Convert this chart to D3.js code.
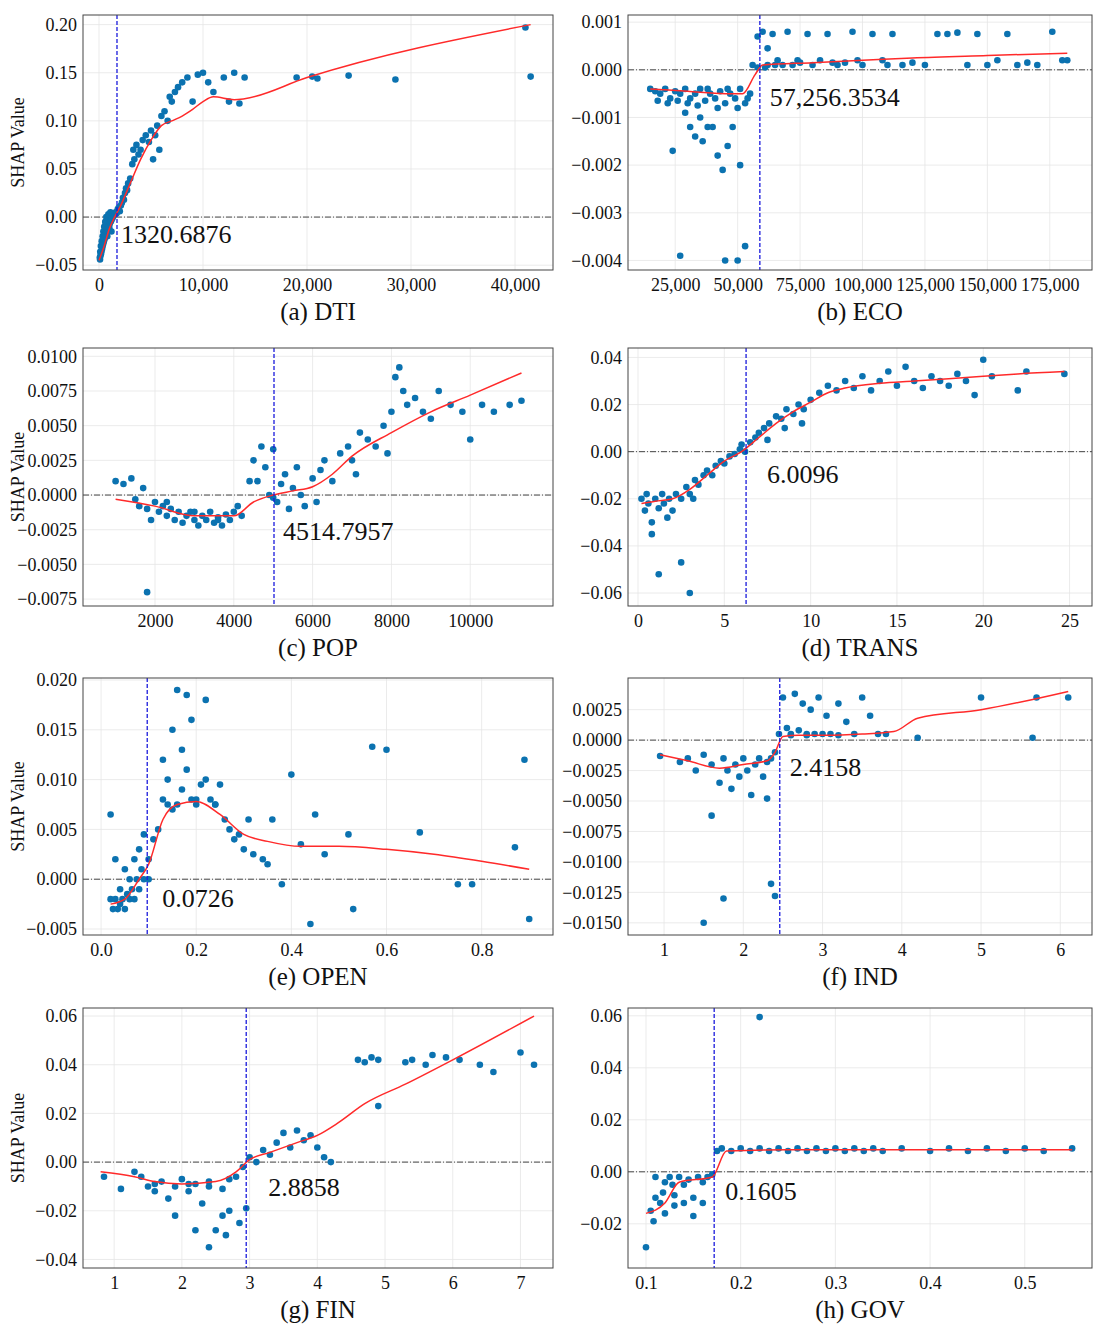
<!DOCTYPE html>
<html>
<head>
<meta charset="utf-8">
<script src="https://cdn.jsdelivr.net/npm/d3@7"></script>
<style>
  body { margin: 0; background: #fff; }
  text { font-family: "Liberation Serif", "Times New Roman", serif; }
</style>
</head>
<body>
<svg id="chart" width="1103" height="1324"></svg>
<script>
// ---- data ----
const dtiPoints = [[80,-0.042],[100,-0.044],[120,-0.036],[150,-0.040],[180,-0.03],[200,-0.038],[250,-0.035],[260,-0.025],[300,-0.033],[350,-0.03],[350,-0.02],[400,-0.028],[420,-0.015],[450,-0.026],[500,-0.024],[500,-0.01],[550,-0.022],[600,-0.02],[600,-0.005],[650,-0.018],[700,-0.016],[700,0],[750,-0.015],[800,-0.013],[800,-0.02],[850,-0.012],[900,-0.01],[900,0.003],[950,-0.009],[1000,-0.008],[1000,-0.012],[1050,-0.006],[1100,-0.005],[1100,0.005],[1150,-0.004],[1200,-0.003],[1200,-0.015],[1300,-0.001],[1400,0.001],[1500,0.003],[1600,0.005],[1700,0.004],[1800,0.008],[1900,0.01],[2000,0.006],[2100,0.012],[2200,0.015],[2300,0.02],[2400,0.018],[2500,0.025],[2600,0.03],[2700,0.028],[2800,0.035],[3000,0.04],[3200,0.055],[3300,0.07],[3400,0.06],[3600,0.075],[3800,0.065],[4000,0.07],[4200,0.08],[4500,0.085],[4800,0.078],[5000,0.09],[5200,0.06],[5400,0.085],[5600,0.095],[5800,0.07],[6000,0.105],[6300,0.11],[6600,0.1],[6800,0.125],[7000,0.12],[7300,0.13],[7600,0.135],[8000,0.14],[8500,0.145],[9000,0.12],[9500,0.148],[10000,0.15],[10500,0.14],[11000,0.13],[12000,0.145],[12500,0.12],[13000,0.15],[13500,0.118],[14000,0.145],[19000,0.145],[20500,0.146],[21000,0.144],[24000,0.147],[28500,0.143],[41000,0.197],[41500,0.146]];
const dtiLine = [[0,-0.045],[500,-0.03],[1000,-0.012],[1500,0.0],[2000,0.01],[3000,0.035],[4000,0.06],[5000,0.08],[6000,0.095],[7000,0.1],[8000,0.105],[9000,0.112],[10000,0.12],[11000,0.125],[13000,0.122],[14000,0.123],[20000,0.145],[41500,0.2]];

const ecoPoints = [[15000,-0.0004],[17000,-0.00045],[19000,-0.0005],[21000,-0.0004],[23000,-0.0006],[25000,-0.00045],[27000,-0.0005],[29000,-0.0004],[31000,-0.0006],[33000,-0.0005],[35000,-0.0004],[37000,-0.00065],[39000,-0.0005],[41000,-0.0006],[43000,-0.00045],[45000,-0.0007],[47000,-0.0005],[49000,-0.0006],[51000,-0.0004],[53000,-0.0007],[55000,-0.0005],[18000,-0.00065],[22000,-0.0007],[26000,-0.00065],[30000,-0.0007],[34000,-0.00075],[38000,-0.0004],[42000,-0.0008],[46000,-0.0004],[50000,-0.0008],[54000,-0.0006],[24000,-0.0017],[31000,-0.0012],[33000,-0.0014],[36000,-0.0015],[38000,-0.0012],[40000,-0.0012],[42000,-0.0018],[44000,-0.0021],[46000,-0.0016],[48000,-0.0012],[51000,-0.002],[27000,-0.0039],[45000,-0.004],[50000,-0.004],[53000,-0.0037],[29000,-0.0009],[35000,-0.001],[56000,0.0001],[58000,0.00005],[60000,0.0008],[62000,0.0001],[64000,0.00075],[66000,0.0002],[68000,0.0001],[70000,0.0008],[72000,0.0001],[75000,0.00015],[78000,0.00075],[80000,0.0001],[83000,0.0002],[86000,0.00075],[90000,0.0001],[93000,0.00015],[96000,0.0008],[100000,0.0001],[104000,0.00075],[108000,0.0002],[112000,0.00075],[116000,0.0001],[120000,0.00015],[125000,0.0001],[130000,0.00075],[134000,0.00075],[138000,0.00078],[142000,0.0001],[146000,0.00075],[150000,0.0001],[154000,0.0002],[158000,0.00075],[162000,0.0001],[166000,0.00015],[170000,0.0001],[176000,0.0008],[180000,0.0002],[182000,0.0002],[61000,0.00005],[65000,0.0001],[74000,0.0002],[88000,0.00015],[98000,0.0002],[110000,0.0001],[58000,0.0007],[62000,0.00045]];
const ecoLine = [[15000,-0.0004],[30000,-0.00045],[45000,-0.0005],[52000,-0.0005],[57000,-0.0001],[60000,0.0001],[80000,0.00015],[100000,0.0002],[120000,0.00025],[150000,0.0003],[182000,0.00035]];

const popPoints = [[1000,0.001],[1200,0.0008],[1400,0.0012],[1500,-0.0003],[1600,-0.0008],[1700,0.0005],[1800,-0.001],[1900,-0.0018],[2000,-0.0005],[2100,-0.0012],[2200,-0.0008],[2300,-0.0015],[2400,-0.001],[2500,-0.0018],[2600,-0.0012],[2700,-0.002],[2800,-0.0015],[2900,-0.0012],[3000,-0.0018],[3100,-0.0022],[3200,-0.0015],[3300,-0.0018],[3400,-0.0012],[3500,-0.002],[3600,-0.0016],[3700,-0.0022],[3800,-0.0014],[3900,-0.0018],[4000,-0.0012],[4100,-0.0008],[4200,-0.0015],[1800,-0.007],[4500,0.0025],[4600,0.001],[4700,0.0035],[4800,0.002],[4900,0.0],[5000,0.0033],[5100,-0.0005],[5200,0.0008],[5300,0.0015],[5400,-0.001],[5500,0.0005],[5600,0.002],[5700,0.0],[5800,-0.0008],[6000,0.0012],[6200,0.0018],[6300,0.0025],[6500,0.001],[6700,0.003],[6900,0.0035],[7000,0.0025],[7200,0.0045],[7400,0.004],[7600,0.0035],[7800,0.005],[8000,0.006],[8100,0.0085],[8200,0.0092],[8300,0.0075],[8400,0.0065],[8600,0.007],[8800,0.006],[9000,0.0055],[9200,0.0075],[9500,0.0065],[9800,0.006],[10000,0.004],[10300,0.0065],[10600,0.006],[11000,0.0065],[11300,0.0068],[7900,0.003],[7100,0.0015],[6100,-0.0005],[5000,-0.0002],[4400,0.001],[2300,-0.0005],[3000,-0.0012],[3600,-0.0018]];
const popLine = [[1000,-0.0003],[2000,-0.0008],[3000,-0.0015],[4000,-0.0015],[4500,-0.0005],[5000,0.0],[5500,0.0003],[6000,0.0006],[6500,0.0015],[7000,0.0028],[8000,0.0045],[9000,0.006],[10000,0.0072],[11300,0.0088]];

const transPoints = [[0.2,-0.02],[0.4,-0.025],[0.5,-0.018],[0.6,-0.022],[0.8,-0.03],[1,-0.02],[1.2,-0.024],[1.4,-0.018],[1.5,-0.022],[1.8,-0.02],[2,-0.025],[2.2,-0.018],[2.5,-0.02],[2.8,-0.015],[3,-0.018],[3.3,-0.012],[3.5,-0.014],[3.8,-0.01],[4,-0.008],[4.3,-0.01],[4.5,-0.006],[4.8,-0.004],[5,-0.005],[5.3,-0.002],[5.6,-0.001],[5.9,0.001],[6.2,0.0],[6.5,0.004],[6.8,0.006],[7,0.008],[7.3,0.01],[7.6,0.012],[8,0.015],[8.3,0.014],[8.6,0.018],[9,0.016],[9.3,0.02],[9.6,0.018],[10,0.022],[10.5,0.025],[11,0.028],[11.5,0.026],[12,0.03],[12.5,0.027],[13,0.032],[13.5,0.026],[14,0.03],[14.5,0.034],[15,0.028],[15.5,0.036],[16,0.03],[16.5,0.027],[17,0.032],[17.5,0.03],[18,0.028],[18.5,0.033],[19,0.03],[19.5,0.024],[20,0.039],[20.5,0.032],[22,0.026],[22.5,0.034],[24.7,0.033],[1.2,-0.052],[2.5,-0.047],[3,-0.06],[0.8,-0.035],[6,0.003],[7.5,0.005],[8.5,0.01],[9.5,0.012],[1.7,-0.028],[3.2,-0.02]];
const transLine = [[0.2,-0.022],[1,-0.021],[2,-0.02],[3,-0.016],[4,-0.01],[5,-0.004],[6,0.0],[7,0.006],[8,0.012],[9,0.017],[10,0.021],[11,0.025],[12,0.027],[14,0.029],[16,0.03],[18,0.031],[20,0.032],[22,0.033],[24.7,0.034]];

const openPoints = [[0.02,0.0065],[0.02,-0.002],[0.025,-0.003],[0.03,-0.002],[0.03,0.002],[0.035,-0.003],[0.04,-0.001],[0.04,-0.0025],[0.045,-0.002],[0.05,-0.003],[0.05,0.001],[0.055,-0.0015],[0.06,-0.002],[0.06,0.0],[0.065,-0.001],[0.07,0.002],[0.07,-0.002],[0.075,0.0],[0.08,0.003],[0.08,-0.001],[0.085,0.001],[0.09,0.0],[0.09,0.0045],[0.1,0.002],[0.1,0.0],[0.11,0.004],[0.12,0.005],[0.13,0.008],[0.13,0.012],[0.14,0.01],[0.15,0.007],[0.15,0.015],[0.16,0.019],[0.17,0.009],[0.17,0.013],[0.18,0.0185],[0.18,0.011],[0.19,0.016],[0.19,0.008],[0.2,0.008],[0.21,0.0095],[0.22,0.018],[0.22,0.01],[0.23,0.008],[0.24,0.0075],[0.25,0.0095],[0.26,0.006],[0.27,0.005],[0.28,0.004],[0.29,0.0045],[0.3,0.003],[0.31,0.006],[0.32,0.0025],[0.34,0.002],[0.35,0.0015],[0.38,-0.0005],[0.4,0.0105],[0.42,0.0035],[0.44,-0.0045],[0.45,0.0065],[0.47,0.0025],[0.52,0.0045],[0.53,-0.003],[0.57,0.0133],[0.6,0.013],[0.67,0.0047],[0.75,-0.0005],[0.78,-0.0005],[0.87,0.0032],[0.89,0.012],[0.9,-0.004],[0.36,0.006],[0.14,0.0075],[0.16,0.0075],[0.2,0.0075],[0.24,0.0075]];
const openLine = [[0.02,-0.0025],[0.05,-0.002],[0.08,0.0],[0.1,0.0015],[0.13,0.006],[0.16,0.0075],[0.2,0.0078],[0.25,0.0065],[0.3,0.0045],[0.35,0.0038],[0.42,0.0033],[0.5,0.0033],[0.6,0.003],[0.7,0.0025],[0.8,0.0018],[0.9,0.001]];

const indPoints = [[0.95,-0.0013],[1.2,-0.0018],[1.3,-0.0015],[1.4,-0.0025],[1.5,-0.0012],[1.6,-0.002],[1.7,-0.0035],[1.75,-0.0015],[1.8,-0.0025],[1.85,-0.004],[1.9,-0.002],[1.95,-0.003],[2,-0.0015],[2.05,-0.0025],[2.1,-0.0045],[2.15,-0.002],[2.2,-0.0015],[2.25,-0.003],[2.3,-0.0018],[2.35,-0.0015],[2.4,-0.001],[2.45,0.0005],[2.5,0.0035],[2.55,0.001],[2.6,0.0005],[2.65,0.0038],[2.7,0.0008],[2.75,0.003],[2.8,0.0005],[2.85,0.0025],[2.9,0.0005],[2.95,0.0035],[3,0.0005],[3.05,0.002],[3.1,0.0005],[3.2,0.003],[3.3,0.0015],[3.4,0.0005],[3.5,0.0035],[3.6,0.002],[3.7,0.0005],[3.8,0.0005],[4.2,0.0002],[5,0.0035],[5.7,0.0035],[5.65,0.0002],[6.1,0.0035],[1.5,-0.015],[1.75,-0.013],[1.6,-0.0062],[2.35,-0.0118],[2.4,-0.0128],[2.3,-0.0048],[2.6,0.0004],[2.8,0.0004],[3.2,0.0004]];
const indLine = [[0.95,-0.0012],[1.3,-0.0017],[1.7,-0.0023],[2,-0.002],[2.3,-0.0017],[2.4,-0.001],[2.5,0.0003],[2.7,0.0004],[3,0.0004],[3.5,0.0005],[3.9,0.0007],[4.2,0.0018],[5,0.0025],[6.1,0.004]];

const finPoints = [[0.85,-0.006],[1.1,-0.011],[1.3,-0.004],[1.4,-0.006],[1.5,-0.01],[1.6,-0.012],[1.6,-0.009],[1.7,-0.008],[1.8,-0.015],[1.9,-0.01],[1.9,-0.022],[2,-0.007],[2.1,-0.012],[2.1,-0.009],[2.2,-0.009],[2.2,-0.028],[2.3,-0.017],[2.4,-0.008],[2.4,-0.035],[2.4,-0.01],[2.5,-0.028],[2.6,-0.011],[2.6,-0.022],[2.65,-0.03],[2.7,-0.02],[2.7,-0.007],[2.8,-0.006],[2.85,-0.025],[2.9,-0.002],[2.95,-0.019],[3,0.002],[3.1,0.0],[3.2,0.005],[3.3,0.003],[3.4,0.008],[3.5,0.012],[3.6,0.006],[3.7,0.013],[3.8,0.009],[3.9,0.011],[4,0.006],[4.1,0.002],[4.2,0.0],[4.6,0.042],[4.7,0.041],[4.8,0.043],[4.9,0.042],[4.9,0.023],[5.3,0.041],[5.4,0.042],[5.6,0.04],[5.7,0.044],[5.9,0.043],[6.1,0.042],[6.4,0.04],[6.6,0.037],[7,0.045],[7.2,0.04]];
const finLine = [[0.8,-0.004],[1.3,-0.006],[1.6,-0.008],[2,-0.009],[2.5,-0.008],[2.8,-0.004],[3,0.001],[3.3,0.004],[3.7,0.008],[4,0.011],[4.3,0.016],[4.7,0.024],[5.3,0.032],[6,0.042],[7.2,0.06]];

const govPoints = [[0.1,-0.029],[0.105,-0.015],[0.108,-0.019],[0.11,-0.01],[0.11,-0.002],[0.115,-0.012],[0.118,-0.008],[0.12,-0.004],[0.12,-0.016],[0.125,-0.002],[0.128,-0.005],[0.13,-0.009],[0.13,-0.013],[0.135,-0.002],[0.14,-0.005],[0.14,-0.012],[0.145,-0.003],[0.15,-0.01],[0.15,-0.017],[0.155,-0.002],[0.16,-0.004],[0.16,-0.012],[0.165,-0.002],[0.17,-0.001],[0.175,0.008],[0.18,0.009],[0.19,0.008],[0.2,0.009],[0.21,0.008],[0.22,0.0595],[0.22,0.009],[0.23,0.008],[0.24,0.009],[0.25,0.008],[0.26,0.009],[0.27,0.008],[0.28,0.009],[0.29,0.008],[0.3,0.009],[0.31,0.008],[0.32,0.009],[0.33,0.008],[0.34,0.009],[0.35,0.008],[0.37,0.009],[0.4,0.008],[0.42,0.009],[0.44,0.008],[0.46,0.009],[0.48,0.008],[0.5,0.009],[0.52,0.008],[0.55,0.009]];
const govLine = [[0.1,-0.016],[0.12,-0.012],[0.135,-0.004],[0.17,-0.002],[0.185,0.008],[0.25,0.0085],[0.55,0.0085]];

const titles = ["(a) DTI", "(b) ECO", "(c) POP", "(d) TRANS", "(e) OPEN", "(f) IND", "(g) FIN", "(h) GOV"];
const thresholdLabels = ["1320.6876", "57,256.3534", "4514.7957", "6.0096", "0.0726", "2.4158", "2.8858", "0.1605"];
const thresholdLines = [1730, 58900, 5020, 6.26, 0.097, 2.46, 2.95, 0.172];

// ---- panel settings ----
const panels = [
  { pts: dtiPoints, line: dtiLine, xd: [-1538, 43650], yd: [-0.055, 0.21], xt: [0, 10000, 20000, 30000, 40000], xf: ",", yt: [-0.05, 0, 0.05, 0.1, 0.15, 0.2], yf: ".2f", off: [4, 26] },
  { pts: ecoPoints, line: ecoLine, xd: [6100, 191900], yd: [-0.0042, 0.00115], xt: [25000, 50000, 75000, 100000, 125000, 150000, 175000], xf: ",", yt: [-0.004, -0.003, -0.002, -0.001, 0, 0.001], yf: ".3f", off: [10, 36] },
  { pts: popPoints, line: popLine, xd: [173, 12100], yd: [-0.008, 0.0106], xt: [2000, 4000, 6000, 8000, 10000], xf: "d", yt: [-0.0075, -0.005, -0.0025, 0, 0.0025, 0.005, 0.0075, 0.01], yf: ".4f", off: [9, 45] },
  { pts: transPoints, line: transLine, xd: [-0.58, 26.3], yd: [-0.0655, 0.044], xt: [0, 5, 10, 15, 20, 25], xf: "d", yt: [-0.06, -0.04, -0.02, 0, 0.02, 0.04], yf: ".2f", off: [21, 31] },
  { pts: openPoints, line: openLine, xd: [-0.038, 0.95], yd: [-0.0056, 0.0202], xt: [0, 0.2, 0.4, 0.6, 0.8], xf: ".1f", yt: [-0.005, 0, 0.005, 0.01, 0.015, 0.02], yf: ".3f", off: [15, 28] },
  { pts: indPoints, line: indLine, xd: [0.545, 6.4], yd: [-0.016, 0.0051], xt: [1, 2, 3, 4, 5, 6], xf: "d", yt: [-0.015, -0.0125, -0.01, -0.0075, -0.005, -0.0025, 0, 0.0025], yf: ".4f", off: [10, 36] },
  { pts: finPoints, line: finLine, xd: [0.54, 7.48], yd: [-0.0435, 0.0633], xt: [1, 2, 3, 4, 5, 6, 7], xf: "d", yt: [-0.04, -0.02, 0, 0.02, 0.04, 0.06], yf: ".2f", off: [22, 34] },
  { pts: govPoints, line: govLine, xd: [0.081, 0.571], yd: [-0.037, 0.063], xt: [0.1, 0.2, 0.3, 0.4, 0.5], xf: ".1f", yt: [-0.02, 0, 0.02, 0.04, 0.06], yf: ".2f", off: [11, 28] }
];

const cols = [[83, 553], [628, 1092]];
const rows = [[15, 270], [348, 606], [678, 935], [1008, 1268]];

const svg = d3.select("#chart");

panels.forEach((p, i) => {
  const [x0, x1] = cols[i % 2];
  const [y0, y1] = rows[Math.floor(i / 2)];
  const x = d3.scaleLinear().domain(p.xd).range([x0, x1]);
  const y = d3.scaleLinear().domain(p.yd).range([y1, y0]);
  const g = svg.append("g");

  // grid
  g.selectAll(".gx").data(p.xt).enter().append("line")
    .attr("x1", d => x(d)).attr("x2", d => x(d)).attr("y1", y0).attr("y2", y1)
    .attr("stroke", "#e6e6e6").attr("stroke-width", 0.8);
  g.selectAll(".gy").data(p.yt).enter().append("line")
    .attr("x1", x0).attr("x2", x1).attr("y1", d => y(d)).attr("y2", d => y(d))
    .attr("stroke", "#e6e6e6").attr("stroke-width", 0.8);

  // axes
  const xAxis = d3.axisBottom(x).tickValues(p.xt).tickFormat(d3.format(p.xf)).tickSize(0).tickPadding(8);
  const yAxis = d3.axisLeft(y).tickValues(p.yt).tickFormat(d3.format(p.yf)).tickSize(0).tickPadding(6);
  g.append("g").attr("transform", `translate(0,${y1})`).call(xAxis)
    .call(a => a.select(".domain").remove())
    .selectAll("text").attr("font-size", 18).attr("fill", "#111").attr("font-family", "Liberation Serif");
  g.append("g").attr("transform", `translate(${x0},0)`).call(yAxis)
    .call(a => a.select(".domain").remove())
    .selectAll("text").attr("font-size", 18).attr("fill", "#111").attr("font-family", "Liberation Serif");

  // zero line
  g.append("line").attr("x1", x0).attr("x2", x1).attr("y1", y(0)).attr("y2", y(0))
    .attr("stroke", "#333").attr("stroke-width", 0.9).attr("stroke-dasharray", "6,2,1,2");

  // points
  g.selectAll("circle").data(p.pts).enter().append("circle")
    .attr("cx", d => x(d[0])).attr("cy", d => y(d[1])).attr("r", 3.3)
    .attr("fill", "#0b72b0");

  // smooth line
  g.append("path").datum(p.line)
    .attr("d", d3.line().x(d => x(d[0])).y(d => y(d[1])).curve(d3.curveMonotoneX))
    .attr("fill", "none").attr("stroke", "#ff2a2a").attr("stroke-width", 1.5);

  // threshold
  const tx = x(thresholdLines[i]);
  g.append("line").attr("x1", tx).attr("x2", tx).attr("y1", y0).attr("y2", y1)
    .attr("stroke", "#1a1adc").attr("stroke-width", 1.3).attr("stroke-dasharray", "4,2");
  g.append("text").attr("x", tx + p.off[0]).attr("y", y(0) + p.off[1])
    .attr("font-size", 26).attr("fill", "#111").text(thresholdLabels[i]);

  // frame
  g.append("rect").attr("x", x0).attr("y", y0).attr("width", x1 - x0).attr("height", y1 - y0)
    .attr("fill", "none").attr("stroke", "#444").attr("stroke-width", 1);

  // title
  g.append("text").attr("x", (x0 + x1) / 2).attr("y", y1 + 50).attr("text-anchor", "middle")
    .attr("font-size", 25).attr("fill", "#111").text(titles[i]);

  if (i % 2 === 0) {
    g.append("text").attr("transform", `translate(24,${(y0 + y1) / 2}) rotate(-90)`)
      .attr("text-anchor", "middle").attr("font-size", 18).attr("fill", "#111").text("SHAP Value");
  }
});
</script>
</body>
</html>
